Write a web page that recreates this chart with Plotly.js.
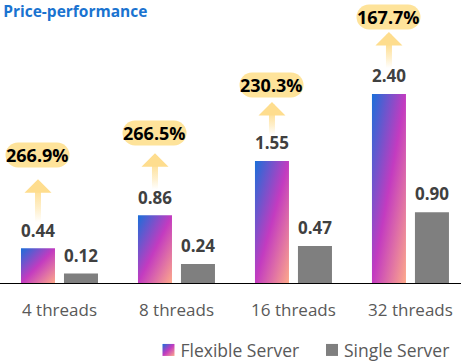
<!DOCTYPE html>
<html>
<head>
<meta charset="utf-8">
<script src="https://cdn.plot.ly/plotly-3.0.1.min.js"></script>
<style>html,body{margin:0;padding:0;background:#fff;}#chart{width:461px;height:361px;}</style>
</head>
<body>
<div id="chart"></div>
<script>
const categories = ['4 threads', '8 threads', '16 threads', '32 threads'];
const flexibleServer = [0.44, 0.86, 1.55, 2.40];
const singleServer = [0.12, 0.24, 0.47, 0.90];
const improvement = ['266.9%', '266.5%', '230.3%', '167.7%'];
const seriesNames = ['Flexible Server', 'Single Server'];

// layout-only positioning (pixels above the flexible bar top)
const pillLift = [93.5, 82, 75.5, 77.5];
const arrowTipLift = [69, 62, 59, 62];
const arrowTailLift = 26;

const FONT = '"Open Sans", "Noto Sans", sans-serif';

const traces = [
  {
    type: 'bar', name: seriesNames[0], x: categories, y: flexibleServer,
    marker: {color: '#c33bc0'},
    texttemplate: '%{y:.2f}', textposition: 'outside', cliponaxis: false,
    textfont: {family: FONT, size: 18, weight: 700, color: '#404040'},
    hoverinfo: 'skip'
  },
  {
    type: 'bar', name: seriesNames[1], x: categories, y: singleServer,
    marker: {color: '#7f7f7f'},
    texttemplate: '%{y:.2f}', textposition: 'outside', cliponaxis: false,
    textfont: {family: FONT, size: 18, weight: 700, color: '#404040'},
    hoverinfo: 'skip'
  }
];

const pillHalf = 12.5;
const annotations = categories.map((c, i) => {
  const gap = Math.max(0, pillLift[i] - pillHalf - arrowTipLift[i]);
  return {
    xref: 'x', yref: 'y', x: c, y: flexibleServer[i],
    xshift: -21.5, yshift: arrowTailLift,
    text: improvement[i],
    font: {family: FONT, size: 18, weight: 700, color: '#000000'},
    bgcolor: '#fee39a', borderpad: 0,
    showarrow: true, arrowside: 'start', arrowhead: 1, startarrowhead: 1,
    arrowwidth: 6, arrowsize: 0.75, startarrowsize: 0.75, arrowcolor: '#fedd8e',
    ax: 0, ay: -(pillLift[i] - arrowTailLift), startstandoff: gap, standoff: 0
  };
});

const layout = {
  width: 461, height: 361,
  margin: {l: 0, r: 0, t: 0, b: 78, pad: 0, autoexpand: false},
  paper_bgcolor: '#ffffff', plot_bgcolor: '#ffffff',
  title: {
    text: 'Price-performance', x: 0.007, xanchor: 'left', xref: 'paper',
    y: 0.967, yanchor: 'middle', yref: 'container',
    font: {family: FONT, size: 15.5, weight: 700, color: '#1a73d0'}
  },
  barmode: 'group', bargap: 0.265, bargroupgap: 0.209,
  xaxis: {
    range: [-0.5085, 3.432], showline: true, linecolor: '#000000', linewidth: 1,
    ticks: '', ticklabelstandoff: 12, showgrid: false, zeroline: false, fixedrange: true,
    automargin: false,
    tickfont: {family: FONT, size: 17, color: '#595959'}
  },
  yaxis: {
    range: [0, 3.594], visible: false, showgrid: false, zeroline: false, fixedrange: true
  },
  legend: {
    orientation: 'h', x: 1, xanchor: 'right', y: -0.237, yanchor: 'middle',
    font: {family: FONT, size: 17.5, color: '#595959'}, traceorder: 'normal',
    itemwidth: 30, bgcolor: 'rgba(0,0,0,0)'
  },
  annotations: annotations,
  showlegend: true
};

const gd = document.getElementById('chart');
Plotly.newPlot(gd, traces, layout, {displayModeBar: false, staticPlot: true}).then(() => {
  const NS = 'http://www.w3.org/2000/svg';
  const svg = gd.querySelector('svg.main-svg');
  let defs = svg.querySelector('defs');
  if (!defs) { defs = document.createElementNS(NS, 'defs'); svg.insertBefore(defs, svg.firstChild); }
  const grad = document.createElementNS(NS, 'linearGradient');
  grad.setAttribute('id', 'flexGrad');
  grad.setAttribute('x1', '0'); grad.setAttribute('y1', '0');
  grad.setAttribute('x2', '1'); grad.setAttribute('y2', '1');
  [['0', '#1a6fd9'], ['0.5', '#c33bc0'], ['1', '#fda98a']].forEach(([o, c]) => {
    const s = document.createElementNS(NS, 'stop');
    s.setAttribute('offset', o); s.setAttribute('stop-color', c);
    grad.appendChild(s);
  });
  defs.appendChild(grad);

  const barTraces = gd.querySelectorAll('.barlayer .trace');
  if (barTraces[0]) barTraces[0].querySelectorAll('.point path').forEach(p => { p.style.fill = 'url(#flexGrad)'; });
  // lift value labels slightly above the bars
  gd.querySelectorAll('.barlayer .bartext').forEach(t => {
    const tr = t.getAttribute('transform') || '';
    t.setAttribute('transform', 'translate(0,-4) ' + tr);
  });

  const legTraces = gd.querySelectorAll('.legend .traces');
  if (legTraces[0]) legTraces[0].querySelectorAll('.legendpoints path').forEach(p => { p.style.fill = 'url(#flexGrad)'; });

  // legend: place icons and tighten icon-to-text spacing
  const iconCenters = [168.5, 332];
  const rootRect = gd.getBoundingClientRect();
  legTraces.forEach((t, i) => {
    const icon = t.querySelector('.legendpoints path');
    const txt = t.querySelector('text.legendtext');
    if (!icon || !txt) return;
    const ir = icon.getBoundingClientRect();
    const dx = iconCenters[i] - (ir.left + ir.width / 2 - rootRect.left);
    const tr = t.getAttribute('transform') || 'translate(0,0)';
    const m = /translate\(\s*([-\d.e]+)[ ,]+([-\d.e]+)\s*\)/.exec(tr);
    const tx = m ? parseFloat(m[1]) : 0, ty = m ? parseFloat(m[2]) : 0;
    t.setAttribute('transform', 'translate(' + (tx + dx) + ',' + ty + ')');
    const ir2 = icon.getBoundingClientRect();
    const tr2 = txt.getBoundingClientRect();
    const want = ir2.right + 6;
    const cur = parseFloat(txt.getAttribute('x')) || 0;
    txt.setAttribute('x', cur + (want - tr2.left));
    txt.querySelectorAll('tspan[x]').forEach(ts => ts.setAttribute('x', cur + (want - tr2.left)));
  });

  gd.querySelectorAll('.annotation rect.bg').forEach(r => {
    const h = parseFloat(r.getAttribute('height')) || 0;
    r.setAttribute('rx', h / 2); r.setAttribute('ry', h / 2);
  });

  let k = 0;
  gd.querySelectorAll('.annotation-arrow-g').forEach(g => {
    const paths = g.querySelectorAll('path');
    paths.forEach(p => {
      if (p.style.stroke && p.style.stroke !== 'none' && !(p.style.fill && p.style.fill !== 'none')) {
        const bb = p.getBBox();
        const id = 'arrGrad' + (k++);
        const lg = document.createElementNS(NS, 'linearGradient');
        lg.setAttribute('id', id);
        lg.setAttribute('gradientUnits', 'userSpaceOnUse');
        lg.setAttribute('x1', bb.x); lg.setAttribute('x2', bb.x);
        lg.setAttribute('y1', bb.y); lg.setAttribute('y2', bb.y + bb.height);
        [['0', '#fedd8e', 1], ['0.4', '#fedd8e', 0.95], ['0.75', '#fedd8e', 0.45], ['1', '#fedd8e', 0]].forEach(([o, c, a]) => {
          const s = document.createElementNS(NS, 'stop');
          s.setAttribute('offset', o); s.setAttribute('stop-color', c); s.setAttribute('stop-opacity', a);
          lg.appendChild(s);
        });
        defs.appendChild(lg);
        p.style.stroke = 'url(#' + id + ')';
      }
    });
  });
});
</script>
</body>
</html>
